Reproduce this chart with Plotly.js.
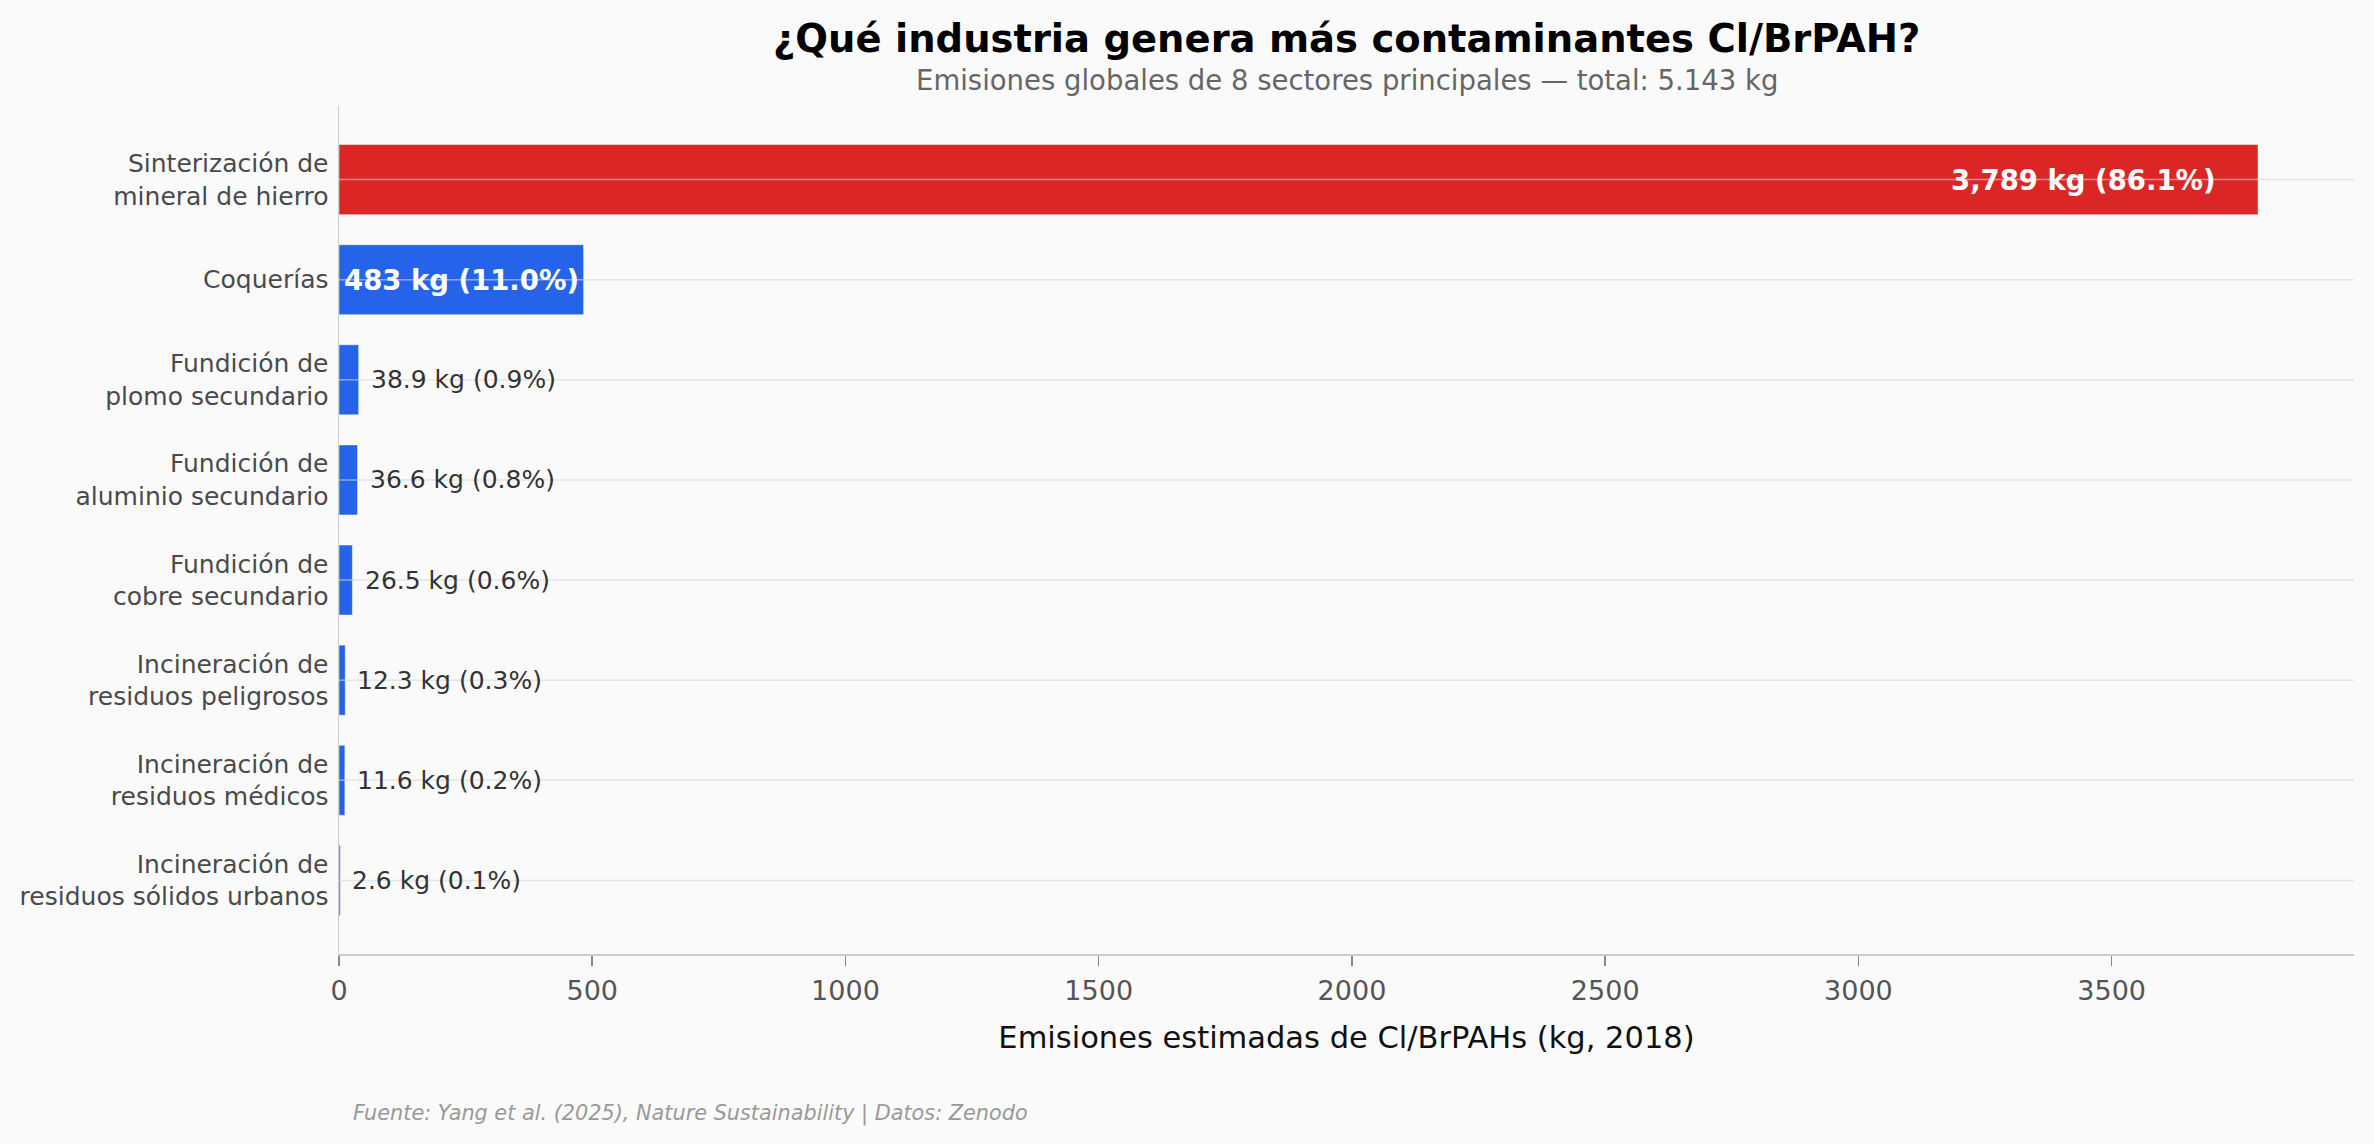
<!DOCTYPE html>
<html>
<head>
<meta charset="utf-8">
<script src="https://cdn.plot.ly/plotly-3.0.1.min.js"></script>
<style>
  html, body { margin: 0; padding: 0; background: #fafafa; }
  #graph_area { width: 2374px; height: 1144px; }
</style>
</head>
<body>
<div id="graph_area"></div>
<script>
// sectores, de mayor a menor
const sectors = [
    "Sinterización de<br>mineral de hierro",
    "Coquerías",
    "Fundición de<br>plomo secundario",
    "Fundición de<br>aluminio secundario",
    "Fundición de<br>cobre secundario",
    "Incineración de<br>residuos peligrosos",
    "Incineración de<br>residuos médicos",
    "Incineración de<br>residuos sólidos urbanos",
];
const emissions = [3789, 483, 38.9, 36.6, 26.5, 12.3, 11.6, 2.6];
const shares = [86.1, 11.0, 0.9, 0.8, 0.6, 0.3, 0.2, 0.1];
const xTicks = [0, 500, 1000, 1500, 2000, 2500, 3000, 3500];

const RED = "#dc2626";
const BLUE = "#2563eb";

const xmax = emissions[0] * 1.05;

function fmt(v) {
    if (v >= 100) return Math.round(v).toLocaleString("en-US");
    return v.toFixed(1);
}

const barColors = emissions.map((v, i) => i === 0 ? RED : BLUE);

// etiquetas de cada barra
const labelAnn = emissions.map((v, i) => {
    const txt = fmt(v) + " kg (" + shares[i].toFixed(1) + "%)";
    if (i === 0) {
        return {x: v - xmax * 0.02, y: sectors[i], xref: "x", yref: "y", text: "<b>" + txt + "</b>",
            xanchor: "right", yanchor: "middle", showarrow: false,
            font: {size: 27.5, color: "#ffffff"}};
    }
    if (i === 1) {
        return {x: v / 2, y: sectors[i], xref: "x", yref: "y", text: "<b>" + txt + "</b>",
            xanchor: "center", yanchor: "middle", showarrow: false,
            font: {size: 27.5, color: "#ffffff"}};
    }
    return {x: v + xmax * 0.005, y: sectors[i], xref: "x", yref: "y", text: txt,
        xanchor: "left", yanchor: "middle", showarrow: false,
        font: {size: 25, color: "#333333"}};
});

// lineas de la cuadricula por encima de las barras
const gridShapes = sectors.map(s => ({
    type: "line", layer: "above", xref: "paper", x0: 0, x1: 1, yref: "y", y0: s, y1: s,
    line: {color: "rgba(215,215,215,0.6)", width: 1.5},
}));

const P_TOP = 106, P_BOT = 954, P_H = P_BOT - P_TOP;
const py = (pix) => (P_BOT - pix) / P_H;

const layout = {
    width: 2374,
    height: 1144,
    paper_bgcolor: "#fafafa",
    plot_bgcolor: "#fafafa",
    font: {family: "DejaVu Sans", color: "#333333"},
    margin: {l: 339, r: 20, t: P_TOP, b: 1144 - P_BOT, pad: 0},
    showlegend: false,
    bargap: 0.3,
    xaxis: {
        range: [0, xmax],
        tickvals: xTicks,
        ticktext: xTicks.map(String),
        showgrid: false,
        zeroline: false,
        showline: true,
        linecolor: "#cccccc",
        linewidth: 2,
        ticks: "outside",
        ticklen: 10,
        tickwidth: 1.5,
        tickcolor: "#888888",
        ticklabelstandoff: 2,
        tickfont: {size: 27, color: "#555555"},
        title: {text: "Emisiones estimadas de Cl/BrPAHs (kg, 2018)", font: {size: 30.5, color: "#111111"}, standoff: 21},
    },
    yaxis: {
        type: "category",
        categoryorder: "array",
        categoryarray: sectors,
        range: [sectors.length - 1 + 0.735, -0.735],
        showgrid: false,
        zeroline: false,
        showline: true,
        linecolor: "#cccccc",
        linewidth: 1.5,
        ticks: "",
        ticklabelstandoff: 4,
        tickfont: {size: 25, color: "#4a4a4a"},
    },
    shapes: gridShapes,
    annotations: [
        {text: "<b>¿Qué industria genera más contaminantes Cl/BrPAH?</b>", xref: "paper", yref: "paper",
            x: 0.5, y: py(39), xanchor: "center", yanchor: "middle", showarrow: false,
            font: {size: 38.5, color: "#000000"}},
        {text: "Emisiones globales de 8 sectores principales — total: 5.143 kg", xref: "paper", yref: "paper",
            x: 0.5, y: py(80), xanchor: "center", yanchor: "middle", showarrow: false,
            font: {size: 27.5, color: "#666666"}},
        {text: "<i>Fuente: Yang et al. (2025), Nature Sustainability | Datos: Zenodo</i>", xref: "paper", yref: "paper",
            x: 12 / 2015, y: py(1113), xanchor: "left", yanchor: "middle", showarrow: false,
            font: {size: 20.8, color: "#999999"}},
    ].concat(labelAnn),
};

Plotly.newPlot("graph_area", [{
    type: "bar",
    orientation: "h",
    x: emissions,
    y: sectors,
    width: 0.7,
    marker: {color: barColors, line: {color: "rgba(255,255,255,0.5)", width: 1}},
    hoverinfo: "none",
}], layout, {displayModeBar: false, staticPlot: true});
</script>
</body>
</html>
